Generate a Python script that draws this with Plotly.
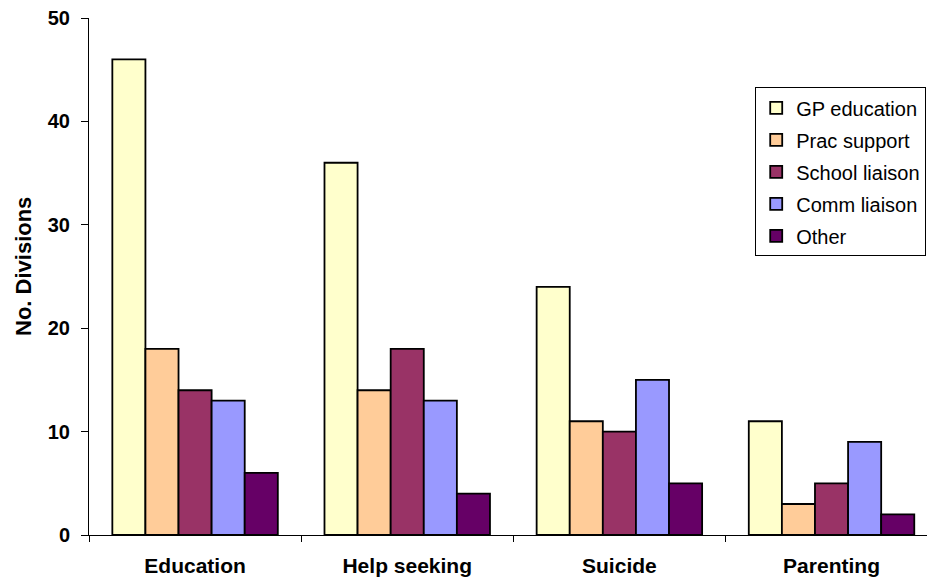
import plotly.graph_objects as go

categories = ["Education", "Help seeking", "Suicide", "Parenting"]
series_names = ["GP education", "Prac support", "School liaison", "Comm liaison", "Other"]
gp_education = [46, 36, 24, 11]
prac_support = [18, 14, 11, 3]
school_liaison = [14, 18, 10, 5]
comm_liaison = [13, 13, 15, 9]
other = [6, 4, 5, 2]
y_ticks = [0, 10, 20, 30, 40, 50]

series_values = [gp_education, prac_support, school_liaison, comm_liaison, other]
colors = ["#FFFFCC", "#FFCC99", "#993366", "#9999FF", "#660066"]

fig = go.Figure()
for name, vals, col in zip(series_names, series_values, colors):
    fig.add_trace(go.Bar(
        name=name, x=categories, y=vals, legendgroup=name,
        marker=dict(color=col, line=dict(color="black", width=1.8)),
    ))

font_family = "Liberation Sans, Arial, sans-serif"
fig.update_layout(
    width=927, height=577,
    margin=dict(l=89, r=0, t=18, b=42),
    paper_bgcolor="white", plot_bgcolor="white",
    barmode="group", bargap=0.22, bargroupgap=0,
    font=dict(family=font_family, color="black"),
    showlegend=True,
    legend=dict(
        x=0.795, y=0.866, xanchor="left", yanchor="top",
        bgcolor="white", bordercolor="black", borderwidth=1,
        font=dict(size=20, family=font_family, color="black"),
        tracegroupgap=3, itemwidth=30, traceorder="grouped",
    ),
    xaxis=dict(
        range=[-0.5, 3.45],
        showline=True, linecolor="black", linewidth=1,
        ticks="outside", tickson="boundaries", ticklen=6, tickcolor="black",
        tickfont=dict(size=21, family=font_family, color="black", weight="bold"),
        ticklabelstandoff=12,
        showgrid=False, zeroline=False,
    ),
    yaxis=dict(
        range=[0, 50], tickvals=y_ticks,
        showline=True, linecolor="black", linewidth=1,
        ticks="outside", ticklen=7, tickcolor="black",
        tickfont=dict(size=20, family=font_family, color="black", weight="bold"),
        ticklabelstandoff=7,
        showgrid=False, zeroline=False,
    ),
    annotations=[dict(
        text="No. Divisions", textangle=-90, showarrow=False,
        xref="paper", yref="paper", x=(23 - 89) / 838, y=(535 - 267) / 517,
        xanchor="center", yanchor="middle",
        font=dict(size=22, family=font_family, color="black", weight="bold"),
    )],
)

fig.write_html("out.html")
